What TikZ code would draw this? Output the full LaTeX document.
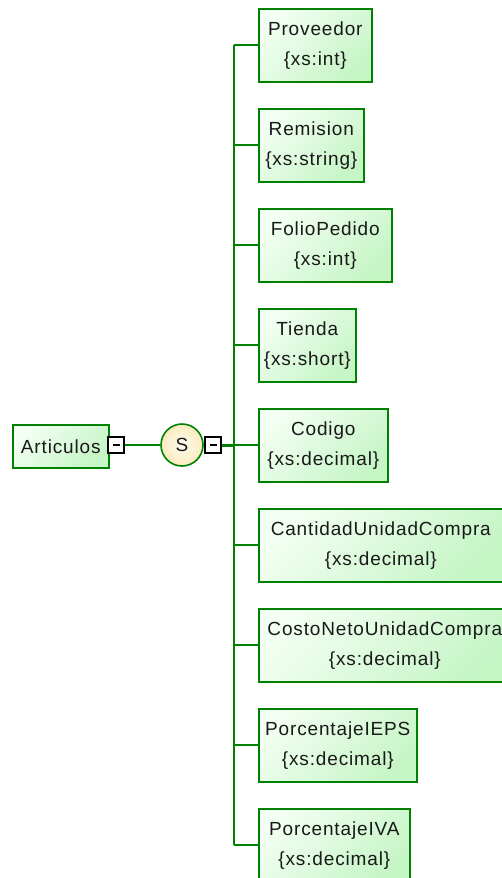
\documentclass[tikz,border=0pt]{standalone}
\usepackage{fontspec}
\setmainfont{Liberation Sans}[LetterSpace=4.5]
\begin{document}
\definecolor{edge}{RGB}{0,128,0}
\definecolor{boxA}{RGB}{242,255,242}
\definecolor{boxB}{RGB}{198,245,198}
\definecolor{circA}{RGB}{255,253,238}
\definecolor{circB}{RGB}{250,234,190}
\definecolor{ink}{RGB}{25,25,25}
\begin{tikzpicture}[x=1pt,y=-1pt,
  elem/.style={draw=edge, line width=1.6pt, top color=boxA, bottom color=boxB, shading angle=45,
    anchor=north west, minimum height=73pt, inner sep=0pt, align=center, text=ink,
    font=\fontsize{19}{30}\selectfont},
  root/.style={draw=edge, line width=1.6pt, top color=boxA, bottom color=boxB, shading angle=45,
    anchor=north west, minimum width=96pt, minimum height=43pt, inner sep=0pt, text=ink,
    font=\fontsize{19}{21}\selectfont},
  seq/.style={circle, draw=edge, line width=1.6pt, inner color=circA, outer color=circB,
    minimum size=42pt, inner sep=0pt, text=ink, font=\fontsize{19}{21}\selectfont},
  minusbox/.style={draw=black, fill=white, line width=1.3pt, minimum size=16pt, inner sep=0pt,
    path picture={\draw[line width=1.6pt] ([xshift=-3.5pt]path picture bounding box.center) -- ([xshift=3.5pt]path picture bounding box.center);}},
  conn/.style={draw=edge, line width=2pt},
  thick conn/.style={draw=edge, line width=3pt}]
\useasboundingbox (0,0) rectangle (502,878);
\begin{scope}
\clip (0,0) rectangle (502,878);
\node[root] (art) at (12,424) {Articulos\hspace{4pt}};
\node[minusbox] (m1) at (116,445) {};
\node[seq] (s) at (182,445) {S};
\node[minusbox] (m2) at (213,445) {};
\coordinate (trunk) at (234,445);
\coordinate (top) at (234,45);
\coordinate (bot) at (234,845);

\node[elem, minimum width=113pt] (e1) at (258,8)   {Proveedor\\\{xs:int\}};
\node[elem, minimum width=105pt] (e2) at (258,108) {Remision\\\{xs:string\}};
\node[elem, minimum width=133pt] (e3) at (258,208) {FolioPedido\\\{xs:int\}};
\node[elem, minimum width=97pt]  (e4) at (258,308) {Tienda\\\{xs:short\}};
\node[elem, minimum width=129pt] (e5) at (258,408) {Codigo\\\{xs:decimal\}};
\node[elem, minimum width=244pt] (e6) at (258,508) {CantidadUnidadCompra\\\{xs:decimal\}};
\node[elem, minimum width=252pt] (e7) at (258,608) {CostoNetoUnidadCompra\\\{xs:decimal\}};
\node[elem, minimum width=158pt] (e8) at (258,708) {PorcentajeIEPS\\\{xs:decimal\}};
\node[elem, minimum width=151pt] (e9) at (258,808) {PorcentajeIVA\\\{xs:decimal\}};

\draw[conn, line width=1.6pt] (m1.east) -- (s.west);
\draw[thick conn] (m2.east) -- (trunk);
\draw[conn] (top) -- (bot);
\foreach \i in {1,...,9} {
  \draw[conn] (e\i.west -| trunk) -- (e\i.west);
}
\end{scope}
\end{tikzpicture}
\end{document}
